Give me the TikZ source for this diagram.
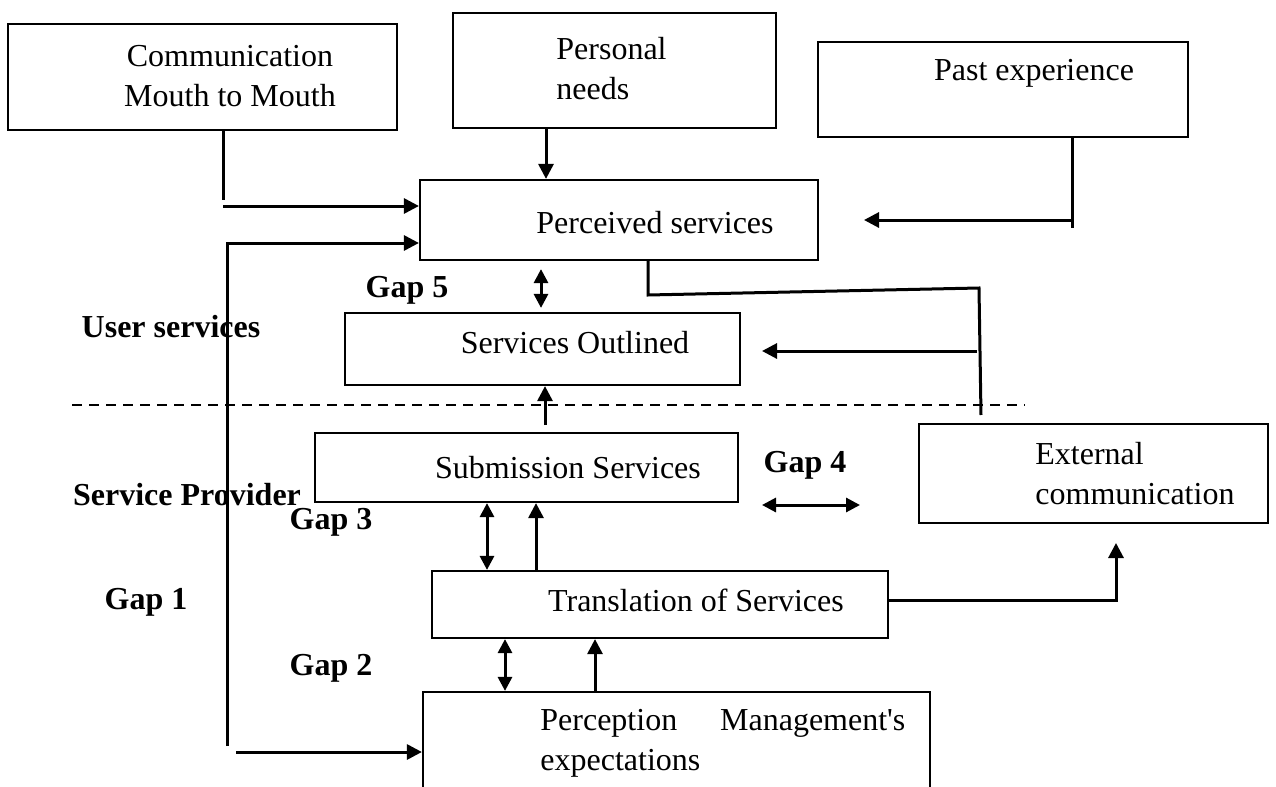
\documentclass[tikz,border=0pt]{standalone}
\usepackage{fontspec}
\setmainfont{Liberation Serif}
\usetikzlibrary{arrows.meta,fit}
\begin{document}
\begin{tikzpicture}[x=0.5pt,y=-0.5pt,
  box/.style={draw, line width=1.1pt, inner sep=0pt},
  txt/.style={inner sep=0pt, font=\fontsize{16}{20}\selectfont},
  lbl/.style={inner sep=0pt, font=\fontsize{16}{20}\selectfont\bfseries},
  conn/.style={line width=1.5pt},
  arr/.style={conn, -{Triangle[length=7.5pt,width=7.5pt]}},
  darr/.style={conn, {Triangle[length=7pt,width=7pt]}-{Triangle[length=7pt,width=7pt]}},
  sep/.style={line width=1pt, dash pattern=on 5pt off 3.5pt}]
\useasboundingbox (0,0) rectangle (1276,787);
\clip (0,0) rectangle (1276,787);
% boxes
\node[box, fit={(8,24) (397,130)}] (comm) {};
\node[box, fit={(453,13) (776,128)}] (pers) {};
\node[box, fit={(818,42) (1188,137)}] (past) {};
\node[box, fit={(420,180) (818,260)}] (perc) {};
\node[box, fit={(345,313) (740,385)}] (outl) {};
\node[box, fit={(315,433) (738,502)}] (subm) {};
\node[box, fit={(919,424) (1268,523)}] (ext) {};
\node[box, fit={(432,571) (888,638)}] (tran) {};
\node[box, fit={(423,692) (930,830)}] (pme) {};
% box texts
\node[txt, align=center] (tcomm) at (230,76) {Communication\\Mouth to Mouth};
\node[txt, align=left, anchor=west] (tpers) at (556,69) {Personal\\needs};
\node[txt] (tpast) at (1034,73) {Past experience};
\node[txt] (tperc) at (655,223) {Perceived services};
\node[txt] (toutl) at (575,343) {Services Outlined};
\node[txt] (tsubm) at (568,468) {Submission Services};
\node[txt, align=left, anchor=west] (text) at (1035,474) {External\\communication};
\node[txt] (ttran) at (696,600) {Translation of Services};
\node[txt, text width=182.5pt, align=left, anchor=west] (tpme) at (540,743) {Perception\hfill Management\textquotesingle s\\expectations};
% bold labels
\node[lbl] (g5) at (407,290) {Gap 5};
\node[lbl] (us) at (171,327) {User services};
\node[lbl] (sp) at (187,495) {Service Provider};
\node[lbl] (g3) at (331,522) {Gap 3};
\node[lbl] (g4) at (805,465) {Gap 4};
\node[lbl] (g1) at (146,602) {Gap 1};
\node[lbl] (g2) at (331,668) {Gap 2};
% separator
\coordinate (dl) at (72,405);
\coordinate (dr) at (1025,405);
\draw[sep] (dl) -- (dr);
% coordinates
\coordinate (c1) at (223,200);
\coordinate (c2) at (223,206);
\coordinate (g1t) at (227,243);
\coordinate (g1b) at (227,746);
\coordinate (c3) at (236,752);
\coordinate (x546) at (546,0);
\coordinate (p1) at (1072,228);
\coordinate (p2) at (1072,220);
\coordinate (p3) at (864,220);
\coordinate (x541) at (541,0);
\coordinate (e1) at (648,295);
\coordinate (e2) at (979,288);
\coordinate (e3) at (981,415);
\coordinate (e4) at (977,351);
\coordinate (e5) at (762,351);
\coordinate (s1) at (545,425);
\coordinate (x487) at (487,0);
\coordinate (x536) at (536,0);
\coordinate (g4l) at (762,505);
\coordinate (g4r) at (860,505);
\coordinate (t1) at (1118,600);
\coordinate (t2) at (1116,601);
\coordinate (t3) at (1116,543);
\coordinate (x505) at (505,0);
\coordinate (x595) at (595,0);
% connectors
\draw[conn] (comm.south -| c1) -- (c1);
\draw[arr] (c2) -- (perc.west |- c2);
\draw[arr] (g1b) -- (g1t) -- (perc.west |- g1t);
\draw[arr] (c3) -- (pme.west |- c3);
\draw[arr] (pers.south -| x546) -- (perc.north -| x546);
\draw[conn] (past.south -| p1) -- (p1);
\draw[arr] (p2) -- (p3);
\draw[darr, shorten <=4pt, shorten >=2pt] (perc.south -| x541) -- (outl.north -| x541);
\draw[conn] (perc.south -| e1) -- (e1) -- (e2) -- (e3);
\draw[arr] (e4) -- (e5);
\draw[arr] (s1) -- (outl.south -| s1);
\draw[darr] (subm.south -| x487) -- (tran.north -| x487);
\draw[arr] (tran.north -| x536) -- (subm.south -| x536);
\draw[darr] (g4l) -- (g4r);
\draw[conn] (tran.east |- t1) -- (t1);
\draw[arr] (t2) -- (t3);
\draw[darr] (tran.south -| x505) -- (pme.north -| x505);
\draw[arr] (pme.north -| x595) -- (tran.south -| x595);
\end{tikzpicture}
\end{document}
